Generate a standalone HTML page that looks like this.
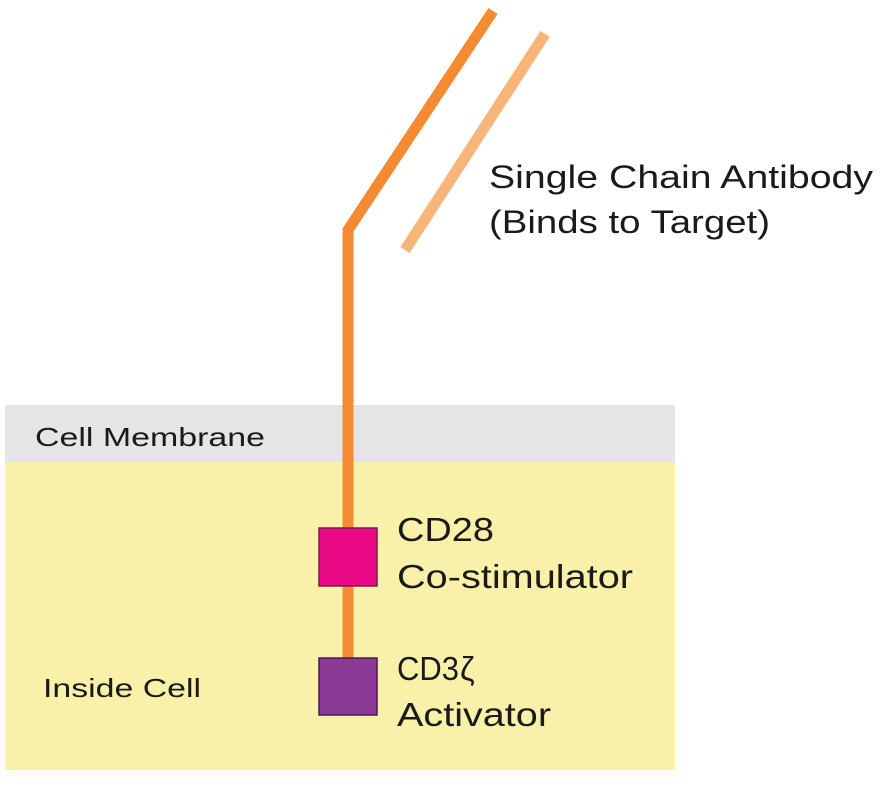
<!DOCTYPE html>
<html><head><meta charset="utf-8"><style>
html,body{margin:0;padding:0;background:#fff;width:890px;height:788px;overflow:hidden}
svg{display:block}
text{font-family:"Liberation Sans",sans-serif;fill:#1a1a1a}
</style></head><body>
<svg width="890" height="788" viewBox="0 0 890 788">
<rect x="5" y="405" width="670" height="57" fill="#e5e5e6"/>
<rect x="5" y="462" width="670" height="308" fill="#f9f1a9"/>
<polyline points="348,658 348,230 493,11" fill="none" stroke="#f48a32" stroke-width="11" stroke-linejoin="miter"/>
<line x1="405" y1="250" x2="545" y2="34" stroke="#f8b57a" stroke-width="11"/>
<rect x="319" y="528" width="58" height="58" fill="#ea0a85" stroke="#7a1a4a" stroke-width="1.5"/>
<rect x="319" y="658" width="58" height="57" fill="#8b3a96" stroke="#4a1a50" stroke-width="1.5"/>
<text x="489" y="188" font-size="32" textLength="384" lengthAdjust="spacingAndGlyphs">Single Chain Antibody</text>
<text x="489" y="233" font-size="32" textLength="281" lengthAdjust="spacingAndGlyphs">(Binds to Target)</text>
<text x="35" y="446" font-size="26" textLength="230" lengthAdjust="spacingAndGlyphs">Cell Membrane</text>
<text x="397" y="541" font-size="33" textLength="97" lengthAdjust="spacingAndGlyphs">CD28</text>
<text x="397" y="588" font-size="33" textLength="236" lengthAdjust="spacingAndGlyphs">Co-stimulator</text>
<text x="397" y="680" font-size="33" textLength="62" lengthAdjust="spacingAndGlyphs">CD3</text>
<text x="460" y="680" font-size="33">ζ</text>
<text x="397" y="726" font-size="33" textLength="154" lengthAdjust="spacingAndGlyphs">Activator</text>
<text x="43" y="697" font-size="26" textLength="158" lengthAdjust="spacingAndGlyphs">Inside Cell</text>
</svg>
</body></html>
